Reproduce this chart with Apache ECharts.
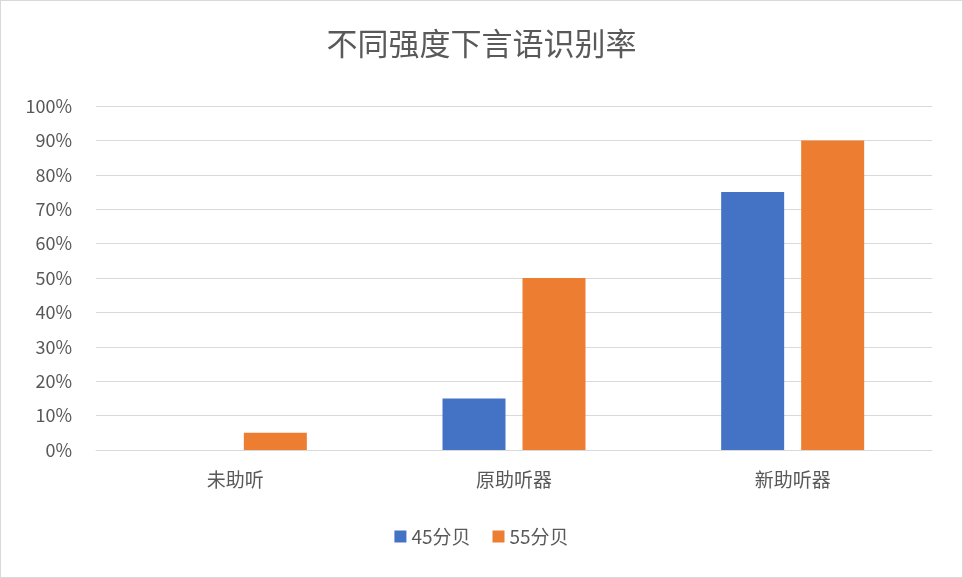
<!DOCTYPE html>
<html><head><meta charset="utf-8">
<script src="https://cdn.jsdelivr.net/npm/echarts@6/dist/echarts.min.js"></script>
<style>html,body{margin:0;padding:0;background:#fff}#c{width:961px;height:576px;border:1px solid #d9d9d9}</style>
</head><body><div id="c"></div>
<script>
var categories = ['未助听', '原助听器', '新助听器'];
var s45 = [0, 15, 75];
var s55 = [5, 50, 90];
var seriesNames = ['45分贝', '55分贝'];
var font = '"Noto Sans CJK SC", "Noto Sans", sans-serif';
var chart = echarts.init(document.getElementById('c'));
chart.setOption({
  animation: false,
  textStyle: {fontFamily: font},
  title: {text: '不同强度下言语识别率', left: 'center', top: 22,
    textStyle: {fontSize: 31, fontWeight: 'normal', color: '#595959', fontFamily: font}},
  legend: {bottom: 26, left: 'center', itemWidth: 12, itemHeight: 12, itemGap: 22, icon: 'rect',
    textStyle: {fontSize: 19, color: '#595959', fontFamily: font}},
  grid: {left: 95, right: 30, top: 105, bottom: 127, containLabel: false},
  xAxis: {type: 'category', data: categories,
    axisLine: {lineStyle: {color: '#d9d9d9'}}, axisTick: {show: false},
    axisLabel: {fontSize: 19, color: '#595959', margin: 20}},
  yAxis: {type: 'value', min: 0, max: 1, interval: 0.1,
    axisLabel: {fontSize: 18, color: '#595959', margin: 24, formatter: function(v){return Math.round(v*100)+'%';}},
    splitLine: {lineStyle: {color: '#d9d9d9'}}, axisLine: {show: false}, axisTick: {show: false}},
  series: [
    {name: seriesNames[0], type: 'bar', data: s45.map(function(v){return v/100;}), barWidth: 63, barGap: '27%', itemStyle: {color: '#4472c4'}},
    {name: seriesNames[1], type: 'bar', data: s55.map(function(v){return v/100;}), barWidth: 63, itemStyle: {color: '#ed7d31'}}
  ]
});
</script></body></html>
